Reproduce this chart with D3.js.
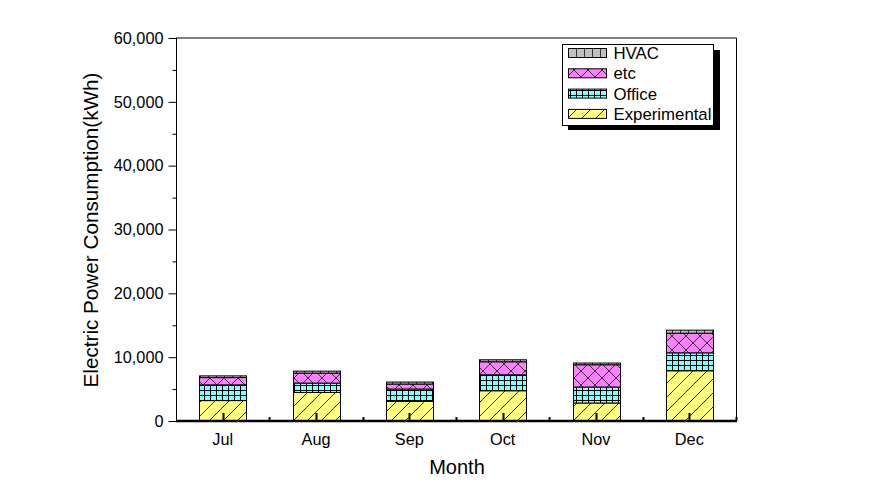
<!DOCTYPE html>
<html><head><meta charset="utf-8">
<script src="https://cdn.jsdelivr.net/npm/d3@7"></script>
<style>body{margin:0;background:#fff}svg{display:block}text{font-family:"Liberation Sans",Arial,sans-serif;fill:#000}</style>
</head><body>
<script>
const months = ["Jul","Aug","Sep","Oct","Nov","Dec"];
const experimental = [3200, 4470, 3070, 4740, 2820, 7870];
const office = [2460, 1470, 1940, 2500, 2500, 2810];
const etc = [1140, 1560, 780, 2040, 3490, 3080];
const hvac = [270, 310, 310, 310, 270, 470];
const seriesNames = ["Experimental","Office","etc","HVAC"];
const yTicks = [0,10000,20000,30000,40000,50000,60000];
const yMinorTicks = [5000,15000,25000,35000,45000,55000];

const W=888,H=489;
const svg=d3.select("body").append("svg").attr("width",W).attr("height",H);
const defs=svg.append("defs");

function pat(id,w,h,bg,draw){
  const p=defs.append("pattern").attr("id",id).attr("patternUnits","userSpaceOnUse").attr("width",w).attr("height",h);
  p.append("rect").attr("width",w).attr("height",h).attr("fill",bg);
  draw(p);
}
pat("pExp",14,14,"#ffff80",p=>{
  p.append("path").attr("d","M0,14 L14,0 M-7,7 L7,-7 M7,21 L21,7").attr("stroke","#333").attr("stroke-width",1);
});
pat("pOff",6,5,"#80ffff",p=>{
  p.append("path").attr("d","M0.5,0 V5 M0,0.5 H6").attr("stroke","#000").attr("stroke-width",1);
});
pat("pEtc",14,14,"#ff80ff",p=>{
  p.append("path").attr("d","M0,0 L14,14 M0,14 L14,0").attr("stroke","#333").attr("stroke-width",1);
});
pat("pHvac",8,8,"#c0c0c0",p=>{
  p.append("path").attr("d","M0.5,0 V8").attr("stroke","#333").attr("stroke-width",1);
});
const fills={Experimental:"url(#pExp)",Office:"url(#pOff)",etc:"url(#pEtc)",HVAC:"url(#pHvac)"};

const x=d3.scaleBand().domain(months).range([176,736]).paddingInner(0.5).paddingOuter(0.25);
const y=d3.scaleLinear().domain([0,60000]).range([421,38]);

const table=months.map((m,i)=>({month:m,Experimental:experimental[i],Office:office[i],etc:etc[i],HVAC:hvac[i]}));
const stack=d3.stack().keys(seriesNames)(table);

svg.append("line").attr("x1",176).attr("x2",736.5).attr("y1",38).attr("y2",38).attr("stroke","#000");
svg.append("line").attr("x1",736.5).attr("x2",736.5).attr("y1",38).attr("y2",421).attr("stroke","#000");

stack.forEach(s=>{
  svg.append("g").selectAll("rect").data(s).join("rect")
    .attr("x",d=>Math.round(x(d.data.month))+0.5)
    .attr("width",Math.round(x.bandwidth()))
    .attr("y",d=>y(d[1]))
    .attr("height",d=>y(d[0])-y(d[1]))
    .attr("fill",fills[s.key]).attr("stroke","#000").attr("stroke-width",1);
});

const ya=svg.append("g").attr("transform","translate(176.5,0)")
  .call(d3.axisLeft(y).tickValues(yTicks).tickSize(8).tickPadding(5).tickFormat(d3.format(",")));
ya.selectAll("text").style("font-size","16.3px").attr("font-family","Liberation Sans, Arial");
ya.select(".domain").attr("d","M0,38V421");
svg.append("g").attr("transform","translate(176.5,0)")
  .call(d3.axisLeft(y).tickValues(yMinorTicks).tickSize(4).tickFormat(""))
  .select(".domain").remove();

const xa=svg.append("g").attr("transform","translate(0,421)")
  .call(d3.axisBottom(x).tickSize(0).tickPadding(12));
xa.select(".domain").remove();
xa.selectAll("text").style("font-size","16.3px").attr("font-family","Liberation Sans, Arial");
svg.append("line").attr("x1",176).attr("x2",737).attr("y1",421).attr("y2",421).attr("stroke","#000").attr("stroke-width",2.5);
svg.append("g").selectAll("line").data(months).join("line")
  .attr("x1",d=>Math.round(x(d)+x.bandwidth()/2)+0.5).attr("x2",d=>Math.round(x(d)+x.bandwidth()/2)+0.5)
  .attr("y1",421).attr("y2",413).attr("stroke","#000").attr("stroke-width",2);
svg.append("g").selectAll("line").data(months).join("line")
  .attr("x1",d=>Math.round(x(d)+x.bandwidth()+x.step()*0.25)+0.5).attr("x2",d=>Math.round(x(d)+x.bandwidth()+x.step()*0.25)+0.5)
  .attr("y1",421).attr("y2",417).attr("stroke","#000").attr("stroke-width",2);

svg.append("text").attr("x",457).attr("y",474).attr("text-anchor","middle").style("font-size","20px").text("Month");
svg.append("text").attr("transform","translate(98,230) rotate(-90)").attr("text-anchor","middle").style("font-size","20.7px").text("Electric Power Consumption(kWh)");

const lg=svg.append("g");
lg.append("rect").attr("x",568).attr("y",50).attr("width",152).attr("height",80).attr("fill","#000");
lg.append("rect").attr("x",562.5).attr("y",44.5).attr("width",151).attr("height",81).attr("fill","#fff").attr("stroke","#000");
const legendOrder=["HVAC","etc","Office","Experimental"];
legendOrder.forEach((k,i)=>{
  const cy=53+i*20.3;
  lg.append("rect").attr("x",568.5).attr("y",cy-4.5).attr("width",38).attr("height",9).attr("fill",fills[k]).attr("stroke","#000");
  lg.append("text").attr("x",613.5).attr("y",cy+6).style("font-size","16.8px").text(k);
});
</script>
</body></html>
